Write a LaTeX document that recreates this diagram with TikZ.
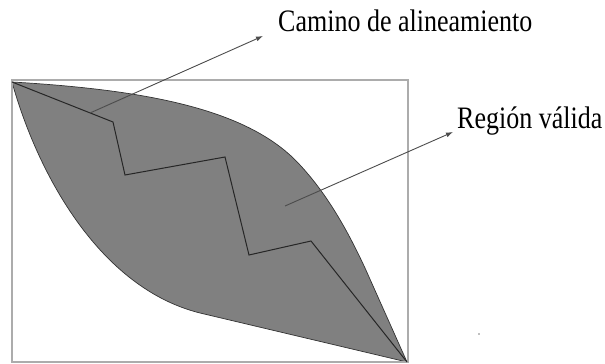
\documentclass[tikz,border=0pt]{standalone}
\usepackage{fontspec}
\setmainfont{Liberation Serif}
\usetikzlibrary{arrows.meta}

\begin{document}
\begin{tikzpicture}[
	x=1pt, y=-1pt,
	font=\fontsize{26}{30}\selectfont,
	frame/.style={
		draw=gray!65,
		line width=1.3pt
	},
	region/.style={
		fill=gray,
		draw=black!80,
		line width=.7pt
	},
	route/.style={
		draw=black!85,
		line width=1pt
	},
	callout/.style={
		draw=black!70,
		line width=.9pt,
		-{Latex[length=7pt,width=5pt]}
	},
	lbl/.style={
		anchor=base west,
		inner sep=0pt
	}
	]
	\useasboundingbox (0,0) rectangle (605,364);

	% corners of the alignment grid
	\coordinate (a) at (12,82);
	\coordinate (b) at (407,362);

	% valid region between the two curves
	\path[region] (a) .. controls (150,90) and (250,110) .. (300,165)
		.. controls (325,192) and (345,225) .. (365,268) -- (b)
		-- (200,313) .. controls (100,288) and (38,175) .. cycle;

	% outer frame
	\draw[frame] (12,80) rectangle (408,362);

	% alignment path
	\draw[route] (a) -- (113,122) -- (125,175) -- (225,157)
		-- (249,255) -- (311,241) -- (b);

	% labels
	\node[lbl] (camino) at (278,31) {\scalebox{1}[1.2]{Camino de alineamiento}};
	\node[lbl] (region) at (457,128) {\scalebox{1}[1.2]{Región válida}};

	% pointers
	\coordinate (p1) at (90,113);
	\coordinate (t1) at (263,36);
	\coordinate (p2) at (285,206);
	\coordinate (t2) at (453,132);
	\draw[callout] (p1) -- (t1);
	\draw[callout] (p2) -- (t2);

	% stray speck
	\fill[gray] (479,334) circle (.8);
\end{tikzpicture}
\end{document}
